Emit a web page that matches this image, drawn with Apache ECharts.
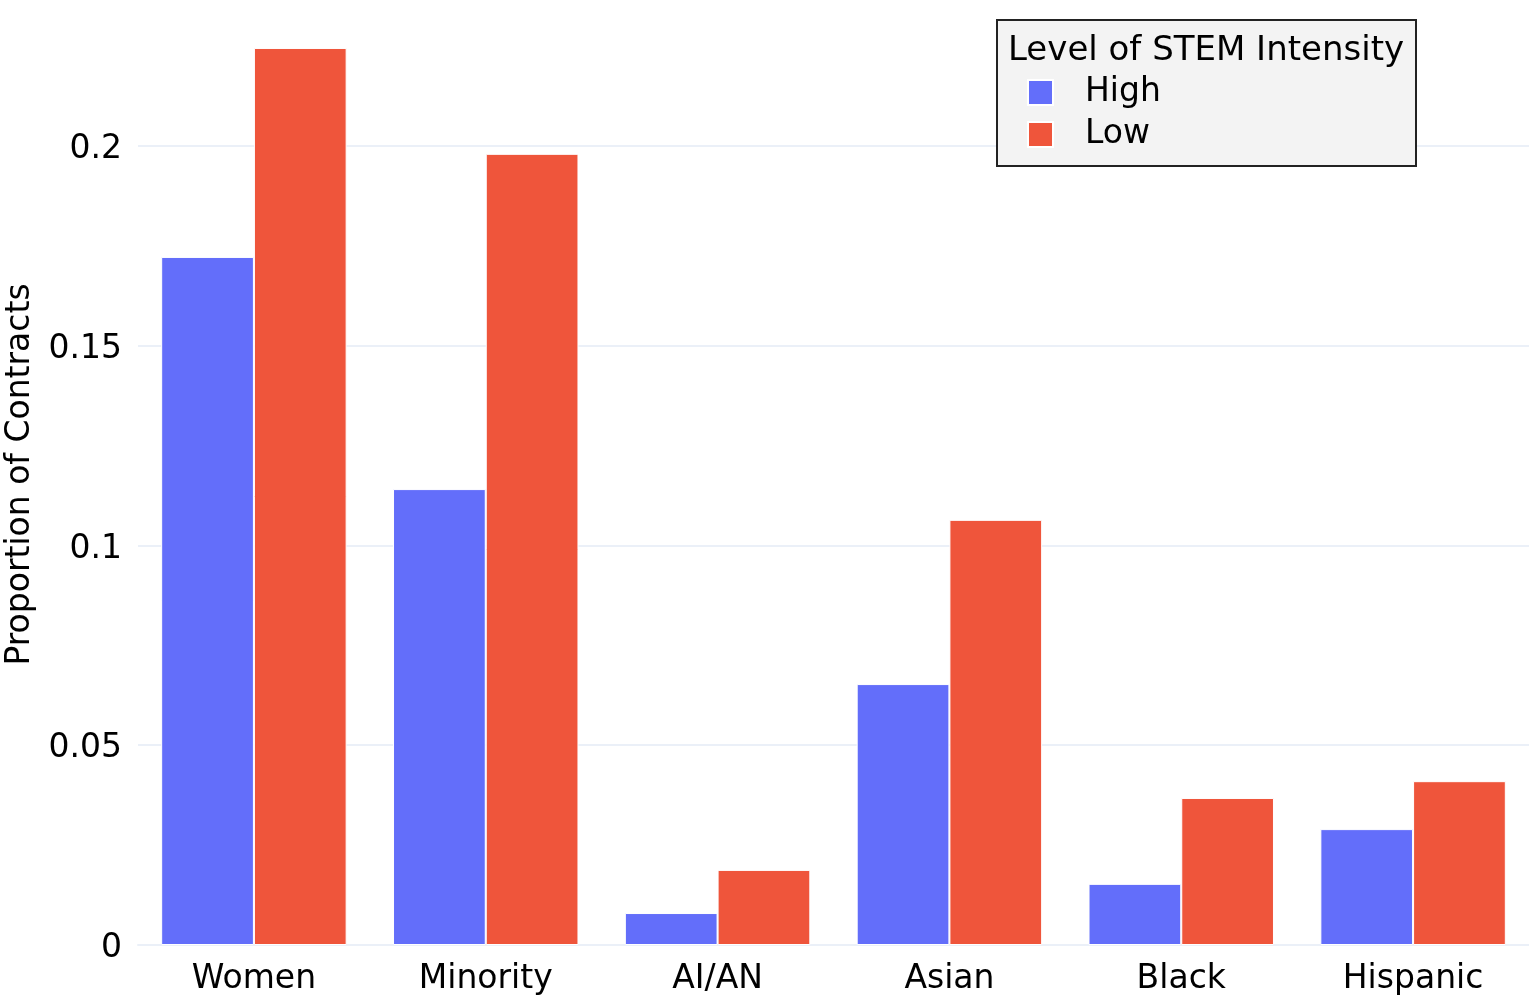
<!DOCTYPE html>
<html>
<head>
<meta charset="utf-8">
<script src="https://cdn.jsdelivr.net/npm/echarts@6/dist/echarts.min.js"></script>
<style>html,body{margin:0;padding:0;background:#fff;}#c{width:1529px;height:999px;}</style>
</head>
<body>
<div id="c"></div>
<script>
const categories = ["Women", "Minority", "AI/AN", "Asian", "Black", "Hispanic"];
const highValues = [0.1722, 0.1141, 0.0080, 0.0653, 0.0153, 0.0290];
const lowValues = [0.2245, 0.1980, 0.0188, 0.1064, 0.0368, 0.0410];
const seriesNames = ["High", "Low"];
const legendTitle = "Level of STEM Intensity";
const yAxisTitle = "Proportion of Contracts";

const FONT = "DejaVu Sans";
const chart = echarts.init(document.getElementById('c'), null, {renderer: 'canvas'});
chart.setOption({
  backgroundColor: '#ffffff',
  animation: false,
  textStyle: {fontFamily: FONT},
  grid: {left: 138, right: 0, top: 4, bottom: 54, containLabel: false, outerBoundsMode: 'none'},
  graphic: [
    {type: 'rect', left: 996, top: 19, shape: {width: 419, height: 146},
     style: {fill: '#f3f3f3', stroke: '#222', lineWidth: 2}, z: 10},
    {type: 'text', left: 1008, top: 34, style: {text: legendTitle, font: '34px "DejaVu Sans"', fill: '#000'}, z: 11}
  ],
  legend: {
    orient: 'vertical', left: 1027, top: 76, z: 12, padding: 0,
    itemWidth: 25, itemHeight: 25, itemGap: 9,
    icon: 'rect',
    textStyle: {fontFamily: FONT, fontSize: 33, color: '#000', padding: [0, 0, 0, 27], lineHeight: 25},
    data: seriesNames
  },
  xAxis: {
    type: 'category', data: categories,
    axisLine: {show: true, lineStyle: {color: '#ebf0f8', width: 2}},
    axisTick: {show: false},
    axisLabel: {color: '#000', fontSize: 33, fontFamily: FONT, margin: 18}
  },
  yAxis: {
    type: 'value', min: 0, max: 0.2355, interval: 0.05,
    name: yAxisTitle, nameLocation: 'middle', nameGap: 101, nameRotate: 90,
    nameTextStyle: {color: '#000', fontSize: 33, fontFamily: FONT},
    axisLine: {show: false}, axisTick: {show: false},
    axisLabel: {color: '#000', fontSize: 33, fontFamily: FONT, margin: 16, showMaxLabel: false,
      formatter: v => (v > 0.2301 ? '' : '{t|' + String(+v.toFixed(3)) + '}'),
      rich: {t: {fontSize: 33, fontFamily: FONT, color: '#000', padding: [7, 0, 0, 0]}}},
    splitLine: {show: true, showMaxLine: false, lineStyle: {color: '#ebf0f8', width: 2}}
  },
  series: [
    {name: seriesNames[0], type: 'bar', data: highValues, barGap: '0%', barCategoryGap: '20%',
     itemStyle: {color: '#636efa', borderColor: '#ffffff', borderWidth: 1}},
    {name: seriesNames[1], type: 'bar', data: lowValues, barGap: '0%', barCategoryGap: '20%',
     itemStyle: {color: '#ef553b', borderColor: '#ffffff', borderWidth: 1}}
  ]
});
</script>
</body>
</html>
